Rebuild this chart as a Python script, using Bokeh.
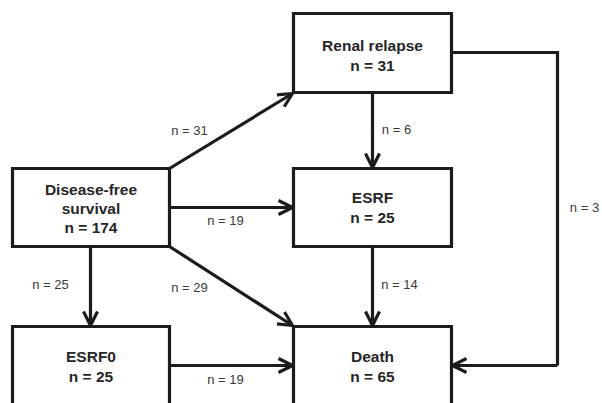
from bokeh.plotting import figure
from bokeh.models import Arrow, OpenHead, Range1d, ColumnDataSource
from bokeh.embed import file_html
from bokeh.resources import INLINE
from bokeh.core.properties import value

# ---- data ----
node_names = ["Disease-free\nsurvival", "Renal relapse", "ESRF", "ESRF0", "Death"]
node_counts = [174, 31, 25, 25, 65]

flow_from = ["Disease-free survival", "Disease-free survival", "Disease-free survival",
             "Disease-free survival", "Renal relapse", "ESRF", "ESRF0", "Renal relapse"]
flow_to = ["Renal relapse", "ESRF", "Death", "ESRF0", "ESRF", "Death", "Death", "Death"]
flow_n = [31, 19, 29, 25, 6, 14, 19, 3]

# ---- layout (pixel-like coordinates) ----
box_left = [12, 293, 293, 12, 293]
box_right = [169, 451, 451, 169, 451]
box_top = [168, 13, 168, 326, 326]
box_bottom = [246, 92, 246, 430, 430]
text_y = [208, 55, 207, 366, 366]

# arrows: (x_start, y_start, x_end, y_end)
arrow_geom = [
    (169, 168, 292, 93),
    (169, 207, 292, 207),
    (169, 246, 292, 325),
    (90, 246, 90, 325),
    (372, 92, 372, 167),
    (372, 246, 372, 325),
    (169, 365, 292, 365),
    (557, 365, 452, 365),
]
label_pos = [
    (189, 130), (225, 220), (189, 287), (50, 284),
    (396, 129), (399, 284), (225, 379), (584, 207),
]

LINE = "#1c1c1c"
TXT = "#262626"
LBL = "#3a3a3a"

p = figure(width=602, height=403, output_backend="svg", toolbar_location=None,
           x_range=Range1d(0, 602), y_range=Range1d(403, 0), min_border=0)
p.axis.visible = False
p.grid.visible = False
p.outline_line_color = None
p.background_fill_color = "white"
p.border_fill_color = "white"

p.quad(left=box_left, right=box_right, top=box_top, bottom=box_bottom,
       fill_color="white", line_color=LINE, line_width=3.2, line_join="miter")

cx = [(l + r) / 2 for l, r in zip(box_left, box_right)]
labels = [f"{nm}\nn = {c}" for nm, c in zip(node_names, node_counts)]
src = ColumnDataSource(dict(x=cx, y=text_y, t=labels))
p.text(x="x", y="y", text="t", source=src, text_align="center", text_baseline="middle",
       text_font=value("Liberation Sans"), text_font_style="bold", text_font_size="15.5px",
       text_color=TXT, text_line_height=1.13)

# elbow line for Renal relapse -> Death
p.line(x=[451, 557, 557], y=[52, 52, 365], line_color=LINE, line_width=3.2, line_join="miter")

for (xs, ys, xe, ye) in arrow_geom:
    p.add_layout(Arrow(end=OpenHead(size=14, line_width=3.2, line_color=LINE),
                       x_start=xs, y_start=ys, x_end=xe, y_end=ye,
                       line_width=3.2, line_color=LINE))

lsrc = ColumnDataSource(dict(x=[a for a, b in label_pos], y=[b for a, b in label_pos],
                             t=[f"n = {n}" for n in flow_n]))
p.text(x="x", y="y", text="t", source=lsrc, text_align="center", text_baseline="middle",
       text_font=value("Liberation Sans"), text_font_size="13px", text_color=LBL)

open("out.html", "w").write(file_html(p, INLINE))
